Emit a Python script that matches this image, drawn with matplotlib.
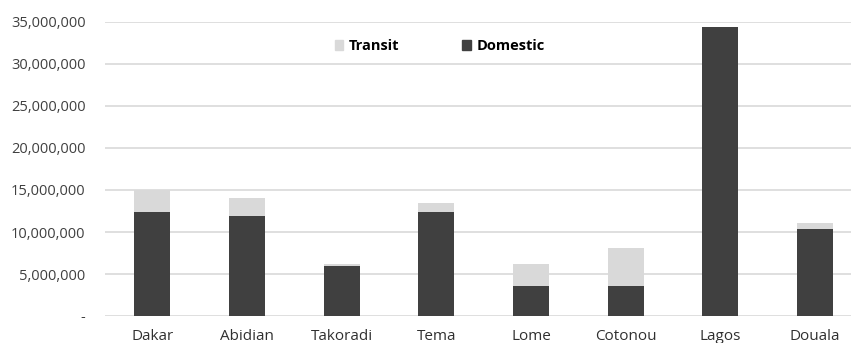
import matplotlib.pyplot as plt
from matplotlib.ticker import FuncFormatter
from matplotlib.patches import Patch

ports = ['Dakar', 'Abidian', 'Takoradi', 'Tema', 'Lome', 'Cotonou', 'Lagos', 'Douala']
domestic = [12400000, 11900000, 5900000, 12400000, 3600000, 3600000, 34400000, 10400000]
transit = [2600000, 2200000, 250000, 1000000, 2550000, 4500000, 0, 650000]

DARK = '#404040'
LIGHT = '#d9d9d9'

plt.rcParams['font.family'] = ['Open Sans', 'DejaVu Sans']


def fmt(v, pos):
    if v == 0:
        return '-'
    return f'{int(v):,}'


def main():
    fig = plt.figure(figsize=(8.51, 3.43), dpi=100)
    ax = fig.add_axes([105 / 851, 27 / 343, 746 / 851, 294 / 343])

    x = range(len(ports))
    ax.bar(x, domestic, width=0.38, color=DARK, zorder=3)
    ax.bar(x, transit, width=0.38, bottom=domestic, color=LIGHT, zorder=3)

    ax.set_ylim(0, 35000000)
    ax.set_xlim(-0.5, 7.38)
    ax.set_yticks(range(0, 35000001, 5000000))
    ax.yaxis.set_major_formatter(FuncFormatter(fmt))
    ax.set_xticks(list(x))
    ax.set_xticklabels(ports)

    ax.grid(axis='y', color=LIGHT, linewidth=1.2, zorder=0)
    for s in ax.spines.values():
        s.set_visible(False)
    ax.tick_params(axis='y', length=0, pad=14, labelsize=10.5, labelcolor='#404040')
    ax.tick_params(axis='x', length=0, pad=9, labelsize=11, labelcolor='#303030')

    handles = [Patch(color=LIGHT, label='Transit'), Patch(color=DARK, label='Domestic')]
    ax.legend(handles=handles, loc='center', bbox_to_anchor=(0.449, 0.918), ncol=2,
              frameon=False, handlelength=0.6, handleheight=0.6, handletextpad=0.4,
              columnspacing=4.3, prop={'weight': 'bold', 'size': 10.5})

    fig.savefig('out.png', dpi=100)


if __name__ == '__main__':
    main()
